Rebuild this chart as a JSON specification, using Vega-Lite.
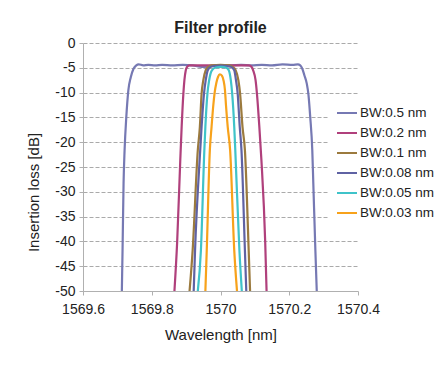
{
  "$schema": "https://vega.github.io/schema/vega-lite/v6.json",
  "autosize": {"type": "none"},
  "padding": {"left": 83, "top": 43, "right": 82, "bottom": 81},
  "width": 275,
  "height": 248,
  "background": "white",
  "title": {"text": "Filter profile", "fontSize": 16, "fontWeight": "bold", "font": "Liberation Sans", "color": "#222222", "anchor": "middle", "offset": 0},
  "config": {
    "font": "Liberation Sans",
    "view": {"stroke": null},
    "axis": {"labelFont": "Liberation Sans", "titleFont": "Liberation Sans", "labelColor": "#222222", "titleColor": "#222222", "domainColor": "#b0b0b0", "tickColor": "#b0b0b0", "gridColor": "#aaaaaa", "gridDash": [4, 2], "labelFontSize": 14, "titleFontSize": 15, "titleFontWeight": "normal", "tickSize": 4}
  },
  "datasets": {
    "curves": [
      {"series": "BW:0.5 nm", "wl": 1569.713, "il": -50},
      {"series": "BW:0.5 nm", "wl": 1569.715, "il": -42},
      {"series": "BW:0.5 nm", "wl": 1569.718, "il": -28.3},
      {"series": "BW:0.5 nm", "wl": 1569.721, "il": -21.6},
      {"series": "BW:0.5 nm", "wl": 1569.726, "il": -14.9},
      {"series": "BW:0.5 nm", "wl": 1569.732, "il": -9.5},
      {"series": "BW:0.5 nm", "wl": 1569.739, "il": -6.9},
      {"series": "BW:0.5 nm", "wl": 1569.747, "il": -5.2},
      {"series": "BW:0.5 nm", "wl": 1569.755, "il": -4.5},
      {"series": "BW:0.5 nm", "wl": 1569.762, "il": -4.3},
      {"series": "BW:0.5 nm", "wl": 1569.775, "il": -4.5},
      {"series": "BW:0.5 nm", "wl": 1569.79, "il": -4.4},
      {"series": "BW:0.5 nm", "wl": 1569.81, "il": -4.5},
      {"series": "BW:0.5 nm", "wl": 1569.83, "il": -4.4},
      {"series": "BW:0.5 nm", "wl": 1569.86, "il": -4.5},
      {"series": "BW:0.5 nm", "wl": 1569.89, "il": -4.4},
      {"series": "BW:0.5 nm", "wl": 1569.92, "il": -4.5},
      {"series": "BW:0.5 nm", "wl": 1569.935, "il": -4.7},
      {"series": "BW:0.5 nm", "wl": 1569.955, "il": -4.8},
      {"series": "BW:0.5 nm", "wl": 1569.975, "il": -4.6},
      {"series": "BW:0.5 nm", "wl": 1570.0, "il": -4.5},
      {"series": "BW:0.5 nm", "wl": 1570.03, "il": -4.5},
      {"series": "BW:0.5 nm", "wl": 1570.06, "il": -4.4},
      {"series": "BW:0.5 nm", "wl": 1570.09, "il": -4.5},
      {"series": "BW:0.5 nm", "wl": 1570.12, "il": -4.4},
      {"series": "BW:0.5 nm", "wl": 1570.15, "il": -4.5},
      {"series": "BW:0.5 nm", "wl": 1570.18, "il": -4.3},
      {"series": "BW:0.5 nm", "wl": 1570.21, "il": -4.4},
      {"series": "BW:0.5 nm", "wl": 1570.225, "il": -4.3},
      {"series": "BW:0.5 nm", "wl": 1570.232, "il": -4.5},
      {"series": "BW:0.5 nm", "wl": 1570.238, "il": -5.2},
      {"series": "BW:0.5 nm", "wl": 1570.244, "il": -6.5},
      {"series": "BW:0.5 nm", "wl": 1570.251, "il": -8.2},
      {"series": "BW:0.5 nm", "wl": 1570.256, "il": -10.5},
      {"series": "BW:0.5 nm", "wl": 1570.261, "il": -14.9},
      {"series": "BW:0.5 nm", "wl": 1570.267, "il": -21.6},
      {"series": "BW:0.5 nm", "wl": 1570.27, "il": -28.3},
      {"series": "BW:0.5 nm", "wl": 1570.276, "il": -41.8},
      {"series": "BW:0.5 nm", "wl": 1570.28, "il": -50},

      {"series": "BW:0.2 nm", "wl": 1569.866, "il": -50},
      {"series": "BW:0.2 nm", "wl": 1569.874, "il": -40},
      {"series": "BW:0.2 nm", "wl": 1569.883, "il": -23.6},
      {"series": "BW:0.2 nm", "wl": 1569.887, "il": -16.9},
      {"series": "BW:0.2 nm", "wl": 1569.892, "il": -10.2},
      {"series": "BW:0.2 nm", "wl": 1569.895, "il": -7.5},
      {"series": "BW:0.2 nm", "wl": 1569.899, "il": -5.5},
      {"series": "BW:0.2 nm", "wl": 1569.903, "il": -4.8},
      {"series": "BW:0.2 nm", "wl": 1569.91, "il": -4.5},
      {"series": "BW:0.2 nm", "wl": 1570.0, "il": -4.5},
      {"series": "BW:0.2 nm", "wl": 1570.083, "il": -4.5},
      {"series": "BW:0.2 nm", "wl": 1570.09, "il": -4.8},
      {"series": "BW:0.2 nm", "wl": 1570.095, "il": -5.5},
      {"series": "BW:0.2 nm", "wl": 1570.102, "il": -7.5},
      {"series": "BW:0.2 nm", "wl": 1570.106, "il": -10.2},
      {"series": "BW:0.2 nm", "wl": 1570.113, "il": -16.9},
      {"series": "BW:0.2 nm", "wl": 1570.119, "il": -23.6},
      {"series": "BW:0.2 nm", "wl": 1570.13, "il": -40},
      {"series": "BW:0.2 nm", "wl": 1570.134, "il": -50},

      {"series": "BW:0.1 nm", "wl": 1569.91, "il": -50},
      {"series": "BW:0.1 nm", "wl": 1569.919, "il": -41.8},
      {"series": "BW:0.1 nm", "wl": 1569.934, "il": -21.6},
      {"series": "BW:0.1 nm", "wl": 1569.94, "il": -16.9},
      {"series": "BW:0.1 nm", "wl": 1569.945, "il": -10.2},
      {"series": "BW:0.1 nm", "wl": 1569.95, "il": -7.5},
      {"series": "BW:0.1 nm", "wl": 1569.957, "il": -5.5},
      {"series": "BW:0.1 nm", "wl": 1569.965, "il": -4.8},
      {"series": "BW:0.1 nm", "wl": 1569.975, "il": -4.5},
      {"series": "BW:0.1 nm", "wl": 1570.0, "il": -4.4},
      {"series": "BW:0.1 nm", "wl": 1570.025, "il": -4.5},
      {"series": "BW:0.1 nm", "wl": 1570.035, "il": -4.8},
      {"series": "BW:0.1 nm", "wl": 1570.044, "il": -5.5},
      {"series": "BW:0.1 nm", "wl": 1570.052, "il": -7.5},
      {"series": "BW:0.1 nm", "wl": 1570.057, "il": -10.2},
      {"series": "BW:0.1 nm", "wl": 1570.064, "il": -16.9},
      {"series": "BW:0.1 nm", "wl": 1570.071, "il": -21.6},
      {"series": "BW:0.1 nm", "wl": 1570.082, "il": -41.8},
      {"series": "BW:0.1 nm", "wl": 1570.086, "il": -50},

      {"series": "BW:0.08 nm", "wl": 1569.922, "il": -50},
      {"series": "BW:0.08 nm", "wl": 1569.926, "il": -41.8},
      {"series": "BW:0.08 nm", "wl": 1569.941, "il": -21.6},
      {"series": "BW:0.08 nm", "wl": 1569.945, "il": -16.9},
      {"series": "BW:0.08 nm", "wl": 1569.952, "il": -10.2},
      {"series": "BW:0.08 nm", "wl": 1569.957, "il": -7.5},
      {"series": "BW:0.08 nm", "wl": 1569.963, "il": -5.5},
      {"series": "BW:0.08 nm", "wl": 1569.972, "il": -4.8},
      {"series": "BW:0.08 nm", "wl": 1569.985, "il": -4.6},
      {"series": "BW:0.08 nm", "wl": 1570.0, "il": -4.55},
      {"series": "BW:0.08 nm", "wl": 1570.015, "il": -4.6},
      {"series": "BW:0.08 nm", "wl": 1570.03, "il": -4.8},
      {"series": "BW:0.08 nm", "wl": 1570.04, "il": -5.5},
      {"series": "BW:0.08 nm", "wl": 1570.045, "il": -7.5},
      {"series": "BW:0.08 nm", "wl": 1570.05, "il": -10.2},
      {"series": "BW:0.08 nm", "wl": 1570.056, "il": -16.9},
      {"series": "BW:0.08 nm", "wl": 1570.061, "il": -21.6},
      {"series": "BW:0.08 nm", "wl": 1570.071, "il": -41.8},
      {"series": "BW:0.08 nm", "wl": 1570.075, "il": -50},

      {"series": "BW:0.05 nm", "wl": 1569.934, "il": -50},
      {"series": "BW:0.05 nm", "wl": 1569.943, "il": -41.8},
      {"series": "BW:0.05 nm", "wl": 1569.953, "il": -21.6},
      {"series": "BW:0.05 nm", "wl": 1569.956, "il": -16.9},
      {"series": "BW:0.05 nm", "wl": 1569.962, "il": -10.2},
      {"series": "BW:0.05 nm", "wl": 1569.967, "il": -7.5},
      {"series": "BW:0.05 nm", "wl": 1569.975, "il": -5.5},
      {"series": "BW:0.05 nm", "wl": 1569.986, "il": -4.95},
      {"series": "BW:0.05 nm", "wl": 1570.002, "il": -4.8},
      {"series": "BW:0.05 nm", "wl": 1570.017, "il": -5.0},
      {"series": "BW:0.05 nm", "wl": 1570.024, "il": -5.5},
      {"series": "BW:0.05 nm", "wl": 1570.03, "il": -7.5},
      {"series": "BW:0.05 nm", "wl": 1570.034, "il": -10.2},
      {"series": "BW:0.05 nm", "wl": 1570.04, "il": -16.9},
      {"series": "BW:0.05 nm", "wl": 1570.043, "il": -21.6},
      {"series": "BW:0.05 nm", "wl": 1570.055, "il": -41.8},
      {"series": "BW:0.05 nm", "wl": 1570.062, "il": -50},

      {"series": "BW:0.03 nm", "wl": 1569.956, "il": -50},
      {"series": "BW:0.03 nm", "wl": 1569.96, "il": -41.8},
      {"series": "BW:0.03 nm", "wl": 1569.969, "il": -21.6},
      {"series": "BW:0.03 nm", "wl": 1569.974, "il": -16.9},
      {"series": "BW:0.03 nm", "wl": 1569.979, "il": -12.6},
      {"series": "BW:0.03 nm", "wl": 1569.983, "il": -10},
      {"series": "BW:0.03 nm", "wl": 1569.988, "il": -8},
      {"series": "BW:0.03 nm", "wl": 1569.993, "il": -6.8},
      {"series": "BW:0.03 nm", "wl": 1569.998, "il": -6.3},
      {"series": "BW:0.03 nm", "wl": 1570.004, "il": -6.6},
      {"series": "BW:0.03 nm", "wl": 1570.009, "il": -7.6},
      {"series": "BW:0.03 nm", "wl": 1570.013, "il": -9.5},
      {"series": "BW:0.03 nm", "wl": 1570.016, "il": -12.6},
      {"series": "BW:0.03 nm", "wl": 1570.021, "il": -16.9},
      {"series": "BW:0.03 nm", "wl": 1570.028, "il": -21.6},
      {"series": "BW:0.03 nm", "wl": 1570.04, "il": -41.8},
      {"series": "BW:0.03 nm", "wl": 1570.048, "il": -50}
    ]
  },
  "data": {"name": "curves"},
  "mark": {"type": "line", "strokeWidth": 2.2, "clip": true, "interpolate": "monotone"},
  "encoding": {
    "x": {
      "field": "wl", "type": "quantitative", "title": "Wavelength [nm]",
      "scale": {"domain": [1569.6, 1570.4], "nice": false, "zero": false},
      "axis": {"values": [1569.6, 1569.8, 1570.0, 1570.2, 1570.4], "format": "~r", "grid": false, "labelPadding": 7, "titlePadding": 11, "labelFlush": false}
    },
    "y": {
      "field": "il", "type": "quantitative", "title": "Insertion loss [dB]",
      "scale": {"domain": [-50, 0], "nice": false},
      "axis": {"values": [-50, -45, -40, -35, -30, -25, -20, -15, -10, -5, 0], "labelExpr": "replace(datum.label, '\u2212', '-')", "grid": true, "labelPadding": 4, "titleX": -50, "titleY": 149, "titleAngle": -90, "titleAlign": "center", "titleBaseline": "middle"}
    },
    "color": {
      "field": "series", "type": "nominal",
      "scale": {"domain": ["BW:0.5 nm", "BW:0.2 nm", "BW:0.1 nm", "BW:0.08 nm", "BW:0.05 nm", "BW:0.03 nm"], "range": ["#7679b3", "#b0407c", "#9b7a3e", "#5f62a3", "#3fc3c9", "#f7a21b"]},
      "legend": {"title": null, "orient": "none", "legendX": 245, "legendY": 51, "padding": 8, "fillColor": "white", "symbolType": "stroke", "symbolSize": 400, "symbolStrokeWidth": 2, "rowPadding": 2, "labelOffset": 2, "labelFontSize": 13.5, "labelColor": "#222222", "labelFont": "Liberation Sans"}
    },
    "order": {"field": "wl", "type": "quantitative"}
  }
}
